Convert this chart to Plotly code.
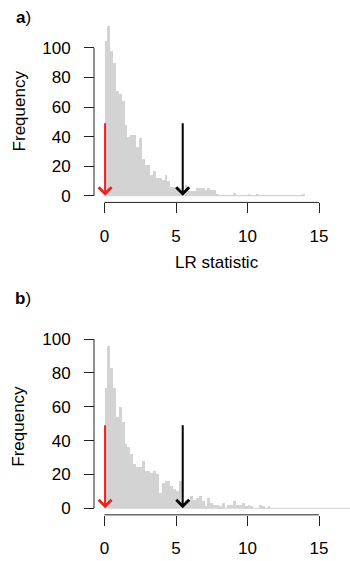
import plotly.graph_objects as go

# ---------------- data ----------------
bin_width = 0.2
bin_start = 0.0

# panel a) counts per 0.2-wide bin, from 0 to 14
counts_a = [105, 115, 98, 90, 71, 69, 64, 48, 40, 41,
            41, 33, 39, 25, 21, 21, 14, 17, 12, 12,
            11, 14, 10, 6, 6, 5, 4, 4, 7, 3,
            3, 3, 5, 5, 5, 4, 5, 4, 4, 1,
            0, 0, 0, 0, 0, 2, 0, 0, 0, 0,
            1, 0, 0, 1, 0, 0, 0, 0, 0, 0,
            0, 0, 0, 0, 0, 0, 0, 0, 0, 1]

# panel b) counts per 0.2-wide bin, from 0 to 17.4
counts_b = [71, 96, 83, 71, 54, 60, 51, 38, 36, 32,
            26, 24, 24, 28, 22, 22, 21, 22, 20, 9,
            15, 16, 16, 13, 11, 10, 16, 3, 5, 5,
            7, 5, 6, 7, 4, 1, 6, 3, 2, 2,
            1, 3, 0, 2, 2, 4, 2, 2, 3, 1,
            2, 1, 0, 0, 2, 1, 0, 1, 0, 0,
            0, 0, 0, 0, 0, 0, 0, 0, 0, 0,
            0, 0, 0, 0, 0, 0, 0, 0, 0, 0,
            0, 0, 0, 0, 0, 0, 0]

# arrows: (x position, arrow top)
arrow_red_x = 0.04
arrow_black_x = 5.47
arrow_top = 50

x_ticks = [0, 5, 10, 15]
y_ticks = [0, 20, 40, 60, 80, 100]
x_title = "LR statistic"
y_title = "Frequency"

# ---------------- geometry ----------------
W, H = 350, 561
FONT = "Liberation Sans, Arial, Helvetica, sans-serif"
FS = 17
BAR_COLOR = "#D3D3D3"
RED = "#EE2020"
INK = "#000000"

px_x0 = 104.5       # pixel of x = 0
px_per_x = 14.3
x_range = [-px_x0 / px_per_x, (W - px_x0) / px_per_x]
yaxis_px = 94.0
yaxis_pos = yaxis_px / W


def centers(counts):
    return [bin_start + bin_width * (i + 0.5) for i in range(len(counts))]


def edges_end(counts):
    return bin_start + bin_width * len(counts)


# panel a vertical mapping
a_px_zero, a_px_per = 196.7, 1.485
a_top_px, a_bot_px = 19.0, 203.5
a_dom = [1 - a_bot_px / H, 1 - a_top_px / H]
a_rng = [(a_px_zero - a_bot_px) / a_px_per, (a_px_zero - a_top_px) / a_px_per]

# panel b vertical mapping
b_px_zero, b_px_per = 511.0, 1.7
b_top_px, b_bot_px = 330.0, 517.6
b_dom = [1 - b_bot_px / H, 1 - b_top_px / H]
b_rng = [(b_px_zero - b_bot_px) / b_px_per, (b_px_zero - b_top_px) / b_px_per]

fig = go.Figure()
fig.add_trace(go.Bar(x=centers(counts_a), y=counts_a, width=bin_width,
                     marker=dict(color=BAR_COLOR, line=dict(width=0)),
                     xaxis="x", yaxis="y", hoverinfo="skip", showlegend=False))
fig.add_trace(go.Bar(x=centers(counts_b), y=counts_b, width=bin_width,
                     marker=dict(color=BAR_COLOR, line=dict(width=0)),
                     xaxis="x2", yaxis="y2", hoverinfo="skip", showlegend=False))

common_x = dict(range=x_range, domain=[0, 1], anchor="free", tickmode="array",
                tickvals=x_ticks, ticktext=[str(t) for t in x_ticks],
                ticks="outside", ticklen=10, tickwidth=1, tickcolor="#222",
                showline=False, showgrid=False, zeroline=False,
                tickfont=dict(family=FONT, size=FS, color=INK),
                ticklabelstandoff=8)
common_y = dict(anchor="free", position=yaxis_pos, tickmode="array",
                tickvals=y_ticks, ticktext=[str(t) for t in y_ticks],
                ticks="outside", ticklen=10, tickwidth=1, tickcolor="#222",
                showline=False, showgrid=False, zeroline=False,
                tickfont=dict(family=FONT, size=FS, color=INK),
                ticklabelstandoff=10)

fig.update_layout(
    width=W, height=H, margin=dict(l=0, r=0, t=0, b=0),
    paper_bgcolor="white", plot_bgcolor="white",
    bargap=0, barmode="overlay", showlegend=False,
    xaxis=dict(**common_x, position=a_dom[0]),
    yaxis=dict(**common_y, domain=a_dom, range=a_rng),
    xaxis2=dict(**common_x, position=b_dom[0]),
    yaxis2=dict(**common_y, domain=b_dom, range=b_rng),
)

shapes = []
for xr, yr, dom, counts in (("x", "y", a_dom, counts_a), ("x2", "y2", b_dom, counts_b)):
    # baseline of histogram
    shapes.append(dict(type="line", xref=xr, yref=yr, x0=bin_start, x1=edges_end(counts),
                       y0=0, y1=0, line=dict(color=BAR_COLOR, width=1.2), layer="below"))
    # y axis line (0..100)
    shapes.append(dict(type="line", xref="paper", yref=yr, x0=yaxis_pos, x1=yaxis_pos,
                       y0=y_ticks[0], y1=y_ticks[-1], line=dict(color="#222", width=1)))
    # x axis line (0..15)
    shapes.append(dict(type="line", xref=xr, yref="paper", x0=x_ticks[0], x1=x_ticks[-1],
                       y0=dom[0], y1=dom[0], line=dict(color="#222", width=1)))
fig.update_layout(shapes=shapes)

ann = []
for xr, yr in (("x", "y"), ("x2", "y2")):
    for ax_x, col in ((arrow_red_x, RED), (arrow_black_x, "black")):
        ann.append(dict(x=ax_x, y=0, ax=ax_x, ay=arrow_top, xref=xr, yref=yr,
                        axref=xr, ayref=yr, text="", showarrow=True,
                        arrowhead=4, arrowsize=1.25, arrowwidth=2, arrowcolor=col,
                        standoff=0))

txt_font = dict(family=FONT, size=FS, color=INK)
ctr = dict(xanchor="center", yanchor="middle", showarrow=False, font=txt_font,
           xref="paper", yref="paper")
ann.append(dict(x=19 / W, y=1 - 112 / H, text=y_title, textangle=-90, **ctr))
ann.append(dict(x=19 / W, y=1 - 429 / H, text=y_title, textangle=-90, **ctr))
ann.append(dict(x=217 / W, y=1 - 263.5 / H, text=x_title, **ctr))
ann.append(dict(x=23 / W, y=1 - 18 / H, text="<b>a</b>)", **ctr))
ann.append(dict(x=23 / W, y=1 - 300 / H, text="<b>b</b>)", **ctr))
fig.update_layout(annotations=ann)

fig.write_html("out.html")
